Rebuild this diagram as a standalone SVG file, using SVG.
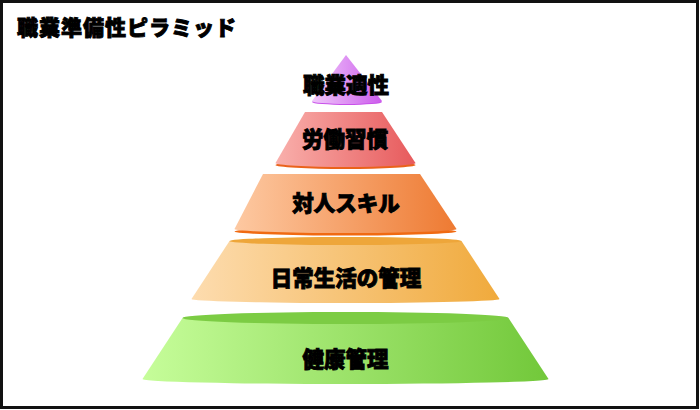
<svg xmlns="http://www.w3.org/2000/svg" width="700" height="410" viewBox="0 0 700 410">
  <defs>
    <linearGradient id="gPurple" x1="0" y1="0" x2="1" y2="0">
      <stop offset="0" stop-color="#f0c8fa"/>
      <stop offset="1" stop-color="#cc5cec"/>
    </linearGradient>
    <linearGradient id="gRed" x1="0" y1="0" x2="1" y2="0">
      <stop offset="0" stop-color="#f9b0ac"/>
      <stop offset="1" stop-color="#e75a5c"/>
    </linearGradient>
    <linearGradient id="gOrange" x1="0" y1="0" x2="1" y2="0">
      <stop offset="0" stop-color="#fdc9a2"/>
      <stop offset="1" stop-color="#ee7a32"/>
    </linearGradient>
    <linearGradient id="gLight" x1="0" y1="0" x2="1" y2="0">
      <stop offset="0" stop-color="#fddcaf"/>
      <stop offset="1" stop-color="#f0aa3c"/>
    </linearGradient>
    <linearGradient id="gGreen" x1="0" y1="0" x2="1" y2="0">
      <stop offset="0" stop-color="#c6fd9a"/>
      <stop offset="1" stop-color="#72c83a"/>
    </linearGradient>
  </defs>
  <style>
    .lbl { font-family: "Noto Sans CJK JP", "Noto Sans", sans-serif; font-weight: 900; font-size: 21.5px; fill: #000; stroke: #000; stroke-width: 0.9; text-anchor: middle; dominant-baseline: central; }
    .title { font-family: "Noto Sans CJK JP", "Noto Sans", sans-serif; font-weight: 900; font-size: 21px; letter-spacing: 1px; fill: #000; stroke: #000; stroke-width: 0.9; dominant-baseline: central; }
  </style>
  <rect x="0" y="0" width="700" height="410" fill="#ffffff"/>
  <rect x="1.5" y="1.5" width="696" height="406" fill="none" stroke="#111111" stroke-width="3"/>
  <text class="title" x="17" y="26">職業準備性ピラミッド</text>

  <g id="level1">
    <ellipse cx="347" cy="102" rx="35" ry="3" fill="#c850ea"/>
    <path d="M346,55 L382,101 A35,3 0 0 1 312,101 Z" fill="url(#gPurple)"/>
    <text class="lbl" x="346" y="83">職業適性</text>
  </g>

  <g id="level2">
    <ellipse cx="345.5" cy="165" rx="70" ry="4" fill="#ea621a"/>
    <path d="M305,112 L382,112 L415.5,163 A70,4 0 0 1 275.5,163 Z" fill="url(#gRed)"/>
    <text class="lbl" x="345" y="137">労働習慣</text>
  </g>

  <g id="level3">
    <ellipse cx="345.5" cy="231.5" rx="111" ry="4" fill="#f06a12"/>
    <path d="M263,174 L420,174 L456.5,229 A111,4 0 0 1 234.5,229 Z" fill="url(#gOrange)"/>
    <text class="lbl" x="346" y="201">対人スキル</text>
  </g>

  <g id="level4">
    <path d="M229.5,241 L461.5,241 L499.5,299 A154,4 0 0 1 191.5,299 Z" fill="url(#gLight)"/>
    <ellipse cx="345.5" cy="241" rx="116" ry="4" fill="#eea63a"/>
    <text class="lbl" x="346" y="276">日常生活の管理</text>
  </g>

  <g id="level5">
    <path d="M182.5,318 L508.5,318 L548.5,379 A203,5 0 0 1 142.5,379 Z" fill="url(#gGreen)"/>
    <ellipse cx="345.5" cy="318" rx="163" ry="6" fill="#7ccc44"/>
    <text class="lbl" x="345.5" y="357">健康管理</text>
  </g>
</svg>
